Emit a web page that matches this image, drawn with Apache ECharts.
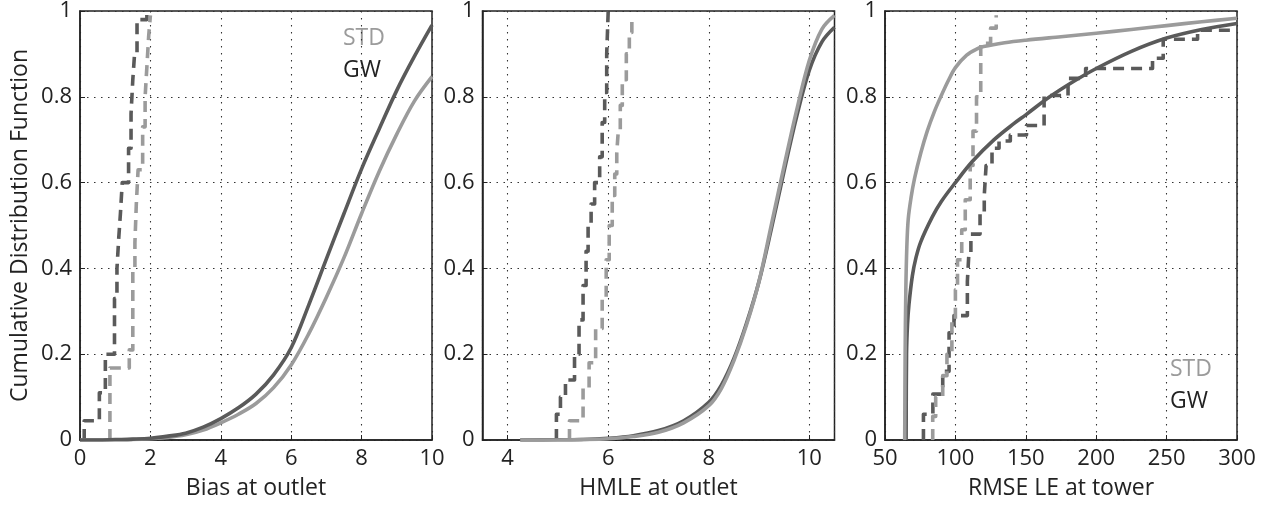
<!DOCTYPE html>
<html>
<head>
<meta charset="utf-8">
<script src="https://cdn.jsdelivr.net/npm/echarts@6/dist/echarts.min.js"></script>
<style>
  html, body { margin: 0; padding: 0; background: #fff; }
  #chart { width: 1272px; height: 506px; }
</style>
</head>
<body>
<div id="chart"></div>
<script>
// ---- Panel 1: bias at outlet ----
// fitted CDFs on a common x grid
const biasGrid   = [0, 0.5, 1, 1.5, 2, 2.5, 3, 3.5, 4, 4.5, 5, 5.5, 6, 6.5, 7, 7.5, 8, 8.5, 9, 9.5, 10];
const biasGwFit  = [0, 0, 0.001, 0.002, 0.004, 0.009, 0.016, 0.03, 0.05, 0.075, 0.107, 0.152, 0.215, 0.315, 0.422, 0.528, 0.632, 0.725, 0.815, 0.894, 0.967];
const biasStdFit = [0, 0, 0, 0.001, 0.003, 0.006, 0.012, 0.023, 0.04, 0.06, 0.085, 0.122, 0.175, 0.248, 0.333, 0.425, 0.528, 0.626, 0.713, 0.79, 0.847];
// empirical CDFs (step points)
const biasGwEcdfX  = [0.12, 0.12, 0.55, 0.72, 0.98, 1.05, 1.1, 1.15, 1.2, 1.38, 1.45, 1.5, 1.55, 1.62, 1.9];
const biasGwEcdfF  = [0, 0.045, 0.11, 0.2, 0.33, 0.4, 0.47, 0.53, 0.6, 0.68, 0.76, 0.84, 0.9, 0.98, 1.0];
const biasStdEcdfX = [0.85, 0.85, 1.4, 1.5, 1.56, 1.6, 1.65, 1.78, 1.85, 1.9, 1.95, 2.0];
const biasStdEcdfF = [0, 0.168, 0.21, 0.4, 0.46, 0.55, 0.63, 0.73, 0.8, 0.87, 0.94, 0.99];

// ---- Panel 2: HMLE at outlet ----
const hmleGrid   = [4.25, 5, 5.5, 6, 6.5, 7, 7.5, 8, 8.25, 8.5, 8.75, 9, 9.25, 9.5, 9.75, 10, 10.25, 10.5];
const hmleGwFit  = [0, 0.0005, 0.001, 0.004, 0.01, 0.022, 0.045, 0.088, 0.128, 0.19, 0.272, 0.37, 0.495, 0.628, 0.755, 0.862, 0.928, 0.962];
const hmleStdFit = [0, 0, 0.001, 0.003, 0.008, 0.018, 0.04, 0.08, 0.12, 0.185, 0.268, 0.37, 0.505, 0.64, 0.77, 0.885, 0.958, 0.99];
const hmleGwEcdfX  = [4.97, 4.97, 5.05, 5.15, 5.33, 5.42, 5.5, 5.56, 5.6, 5.66, 5.73, 5.83, 5.88, 5.93, 5.97, 6.0];
const hmleGwEcdfF  = [0, 0.06, 0.1, 0.14, 0.2, 0.28, 0.36, 0.44, 0.5, 0.55, 0.6, 0.66, 0.74, 0.81, 0.9, 1.0];
const hmleStdEcdfX = [5.23, 5.23, 5.5, 5.62, 5.75, 5.88, 5.96, 6.02, 6.08, 6.13, 6.17, 6.2, 6.24, 6.28, 6.36, 6.42, 6.47];
const hmleStdEcdfF = [0, 0.045, 0.12, 0.18, 0.26, 0.33, 0.42, 0.5, 0.57, 0.62, 0.67, 0.72, 0.78, 0.84, 0.9, 0.95, 0.99];

// ---- Panel 3: RMSE LE at tower ----
const rmseStdFitX = [64, 64.3, 64.8, 65.5, 66.5, 68.5, 71, 75.5, 80, 85, 90, 95, 100, 108, 115, 120, 135, 150, 175, 200, 225, 250, 275, 300];
const rmseStdFit  = [0, 0.2, 0.35, 0.45, 0.515, 0.565, 0.61, 0.67, 0.72, 0.765, 0.803, 0.838, 0.868, 0.897, 0.911, 0.917, 0.926, 0.932, 0.94, 0.948, 0.957, 0.966, 0.975, 0.983];
const rmseGwFitX  = [65, 65.3, 66, 67, 69.4, 72, 75.4, 83.6, 90, 100, 112, 127.5, 141.7, 150, 167, 185, 200, 225, 250, 275, 300];
const rmseGwFit   = [0, 0.2, 0.27, 0.315, 0.382, 0.425, 0.462, 0.52, 0.556, 0.6, 0.649, 0.7, 0.738, 0.758, 0.8, 0.838, 0.866, 0.906, 0.937, 0.957, 0.971];
const rmseGwEcdfX  = [77.3, 77.3, 84, 91, 95.5, 99, 108.5, 109.5, 111, 117.5, 120.5, 121.8, 126, 131, 139, 150.5, 163, 180, 192.5, 240, 247.6, 272, 300];
const rmseGwEcdfF  = [0, 0.06, 0.107, 0.16, 0.25, 0.29, 0.37, 0.43, 0.48, 0.53, 0.57, 0.64, 0.68, 0.697, 0.711, 0.733, 0.803, 0.843, 0.866, 0.89, 0.934, 0.955, 0.955];
const rmseStdEcdfX = [83.9, 83.9, 86, 91, 94, 97.5, 100, 101.5, 104.5, 107, 110.5, 112.5, 115, 118, 125, 129];
const rmseStdEcdfF = [0, 0.055, 0.1, 0.15, 0.2, 0.28, 0.35, 0.42, 0.49, 0.56, 0.64, 0.72, 0.8, 0.925, 0.96, 0.99];

const xNames = ['Bias at outlet', 'HMLE at outlet', 'RMSE LE at tower'];
const yName = 'Cumulative Distribution Function';
const legendNames = ['STD', 'GW'];

const DARK = '#5a5a5a';
const LIGHT = '#9b9b9b';
const FONT = '"Open Sans", "Noto Sans", sans-serif';

const zip = (xs, ys) => xs.map((x, i) => [x, ys[i]]);

const axisCommon = {
  axisLine: { show: true, lineStyle: { color: '#222', width: 1.5 } },
  axisTick: { show: true, inside: true, length: 5, lineStyle: { color: '#222', width: 1 } },
  axisLabel: { color: '#222', fontSize: 22, fontFamily: FONT, margin: 8 },
  splitLine: { show: true, lineStyle: { color: '#333', width: 1.1, type: [1.5, 5.5] } },
  nameTextStyle: { color: '#222', fontSize: 23, fontFamily: FONT }
};

function grid(left) {
  return { left: left, top: 11, width: 352, height: 429, show: true,
           borderColor: '#222', borderWidth: 1.5, backgroundColor: 'transparent' };
}

function line(idx, data, color, dashed, step) {
  return {
    type: 'line', xAxisIndex: idx, yAxisIndex: idx, data: data,
    symbol: 'none', showSymbol: false, clip: true,
    step: step ? 'end' : false,
    smooth: step ? false : 0.35,
    lineStyle: { color: color, width: 3.6, type: dashed ? [11, 7] : 'solid', cap: 'butt', join: 'round' },
    emphasis: { disabled: true }
  };
}

const xAxes = [
  Object.assign({}, axisCommon, { gridIndex: 0, type: 'value', min: 0, max: 10, interval: 2,
    name: xNames[0], nameLocation: 'middle', nameGap: 37 }),
  Object.assign({}, axisCommon, { gridIndex: 1, type: 'value', min: 3.5, max: 10.5, splitNumber: 3,
    name: xNames[1], nameLocation: 'middle', nameGap: 37,
    axisLabel: Object.assign({}, axisCommon.axisLabel, { showMinLabel: false, showMaxLabel: false }) }),
  Object.assign({}, axisCommon, { gridIndex: 2, type: 'value', min: 50, max: 300, interval: 50,
    name: xNames[2], nameLocation: 'middle', nameGap: 37 })
];

const yAxes = [0, 1, 2].map(i => Object.assign({}, axisCommon, {
  gridIndex: i, type: 'value', min: 0, max: 1, interval: 0.2,
  name: i === 0 ? yName : '', nameLocation: 'middle', nameGap: 48
}));

const option = {
  animation: false,
  backgroundColor: '#fff',
  grid: [grid(80), grid(482.5), grid(885)],
  xAxis: xAxes,
  yAxis: yAxes,
  series: [
    line(0, zip(biasGwEcdfX, biasGwEcdfF), DARK, true, true),
    line(0, zip(biasStdEcdfX, biasStdEcdfF), LIGHT, true, true),
    line(0, zip(biasGrid, biasStdFit), LIGHT, false, false),
    line(0, zip(biasGrid, biasGwFit), DARK, false, false),

    line(1, zip(hmleGwEcdfX, hmleGwEcdfF), DARK, true, true),
    line(1, zip(hmleStdEcdfX, hmleStdEcdfF), LIGHT, true, true),
    line(1, zip(hmleGrid, hmleGwFit), DARK, false, false),
    line(1, zip(hmleGrid, hmleStdFit), LIGHT, false, false),

    line(2, zip(rmseGwEcdfX, rmseGwEcdfF), DARK, true, true),
    line(2, zip(rmseStdEcdfX, rmseStdEcdfF), LIGHT, true, true),
    line(2, zip(rmseGwFitX, rmseGwFit), DARK, false, false),
    line(2, zip(rmseStdFitX, rmseStdFit), LIGHT, false, false)
  ],
  graphic: [
    { type: 'text', left: 343, top: 27, style: { text: legendNames[0], fill: LIGHT, font: '23px ' + FONT } },
    { type: 'text', left: 343, top: 59, style: { text: legendNames[1], fill: '#222', font: '23px ' + FONT } },
    { type: 'text', left: 1170, top: 358, style: { text: legendNames[0], fill: LIGHT, font: '23px ' + FONT } },
    { type: 'text', left: 1170, top: 390, style: { text: legendNames[1], fill: '#222', font: '23px ' + FONT } }
  ]
};

const chart = echarts.init(document.getElementById('chart'), null, { renderer: 'canvas' });
chart.setOption(option);
</script>
</body>
</html>
